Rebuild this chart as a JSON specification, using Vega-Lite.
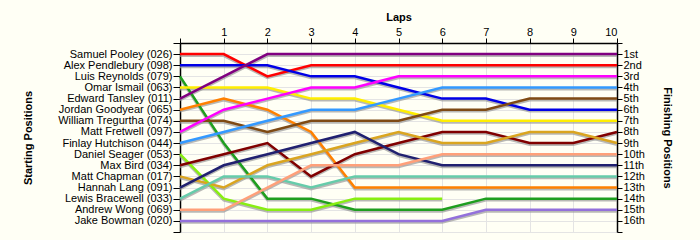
{
  "$schema": "https://vega.github.io/schema/vega-lite/v6.json",
  "width": 437,
  "height": 189,
  "autosize": "none",
  "padding": {"left": 180, "top": 43, "right": 83, "bottom": 8},
  "background": "#FFFFF5",
  "config": {
    "view": {"stroke": null},
    "font": "Liberation Sans",
    "axis": {
      "domainColor": "#000000",
      "domainWidth": 1.5,
      "tickColor": "#000000",
      "tickWidth": 1,
      "tickSize": 6,
      "labelFont": "Liberation Sans",
      "labelFontSize": 11,
      "labelColor": "#000000",
      "labelPadding": 1,
      "titleFont": "Liberation Sans",
      "titleFontSize": 11,
      "titleFontWeight": "bold",
      "titleColor": "#000000",
      "gridColor": "#E4E4E4",
      "gridWidth": 1
    }
  },
  "data": {
    "values": [
      {"start": 1, "lap": 0, "pos": 1}, {"start": 1, "lap": 1, "pos": 1}, {"start": 1, "lap": 2, "pos": 3}, {"start": 1, "lap": 3, "pos": 2}, {"start": 1, "lap": 4, "pos": 2}, {"start": 1, "lap": 5, "pos": 2}, {"start": 1, "lap": 6, "pos": 2}, {"start": 1, "lap": 7, "pos": 2}, {"start": 1, "lap": 8, "pos": 2}, {"start": 1, "lap": 9, "pos": 2}, {"start": 1, "lap": 10, "pos": 2},
      {"start": 2, "lap": 0, "pos": 2}, {"start": 2, "lap": 1, "pos": 2}, {"start": 2, "lap": 2, "pos": 2}, {"start": 2, "lap": 3, "pos": 3}, {"start": 2, "lap": 4, "pos": 3}, {"start": 2, "lap": 5, "pos": 4}, {"start": 2, "lap": 6, "pos": 5}, {"start": 2, "lap": 7, "pos": 5}, {"start": 2, "lap": 8, "pos": 6}, {"start": 2, "lap": 9, "pos": 6}, {"start": 2, "lap": 10, "pos": 6},
      {"start": 3, "lap": 0, "pos": 3}, {"start": 3, "lap": 1, "pos": 9}, {"start": 3, "lap": 2, "pos": 14}, {"start": 3, "lap": 3, "pos": 14}, {"start": 3, "lap": 4, "pos": 15}, {"start": 3, "lap": 5, "pos": 15}, {"start": 3, "lap": 6, "pos": 15}, {"start": 3, "lap": 7, "pos": 14}, {"start": 3, "lap": 8, "pos": 14}, {"start": 3, "lap": 9, "pos": 14}, {"start": 3, "lap": 10, "pos": 14},
      {"start": 4, "lap": 0, "pos": 4}, {"start": 4, "lap": 1, "pos": 4}, {"start": 4, "lap": 2, "pos": 4}, {"start": 4, "lap": 3, "pos": 5}, {"start": 4, "lap": 4, "pos": 5}, {"start": 4, "lap": 5, "pos": 6}, {"start": 4, "lap": 6, "pos": 7}, {"start": 4, "lap": 7, "pos": 7}, {"start": 4, "lap": 8, "pos": 7}, {"start": 4, "lap": 9, "pos": 7}, {"start": 4, "lap": 10, "pos": 7},
      {"start": 5, "lap": 0, "pos": 5}, {"start": 5, "lap": 1, "pos": 3}, {"start": 5, "lap": 2, "pos": 1}, {"start": 5, "lap": 3, "pos": 1}, {"start": 5, "lap": 4, "pos": 1}, {"start": 5, "lap": 5, "pos": 1}, {"start": 5, "lap": 6, "pos": 1}, {"start": 5, "lap": 7, "pos": 1}, {"start": 5, "lap": 8, "pos": 1}, {"start": 5, "lap": 9, "pos": 1}, {"start": 5, "lap": 10, "pos": 1},
      {"start": 6, "lap": 0, "pos": 6}, {"start": 6, "lap": 1, "pos": 5}, {"start": 6, "lap": 2, "pos": 6}, {"start": 6, "lap": 3, "pos": 8}, {"start": 6, "lap": 4, "pos": 13}, {"start": 6, "lap": 5, "pos": 13}, {"start": 6, "lap": 6, "pos": 13}, {"start": 6, "lap": 7, "pos": 13}, {"start": 6, "lap": 8, "pos": 13}, {"start": 6, "lap": 9, "pos": 13}, {"start": 6, "lap": 10, "pos": 13},
      {"start": 7, "lap": 0, "pos": 7}, {"start": 7, "lap": 1, "pos": 7}, {"start": 7, "lap": 2, "pos": 8}, {"start": 7, "lap": 3, "pos": 7}, {"start": 7, "lap": 4, "pos": 7}, {"start": 7, "lap": 5, "pos": 7}, {"start": 7, "lap": 6, "pos": 6}, {"start": 7, "lap": 7, "pos": 6}, {"start": 7, "lap": 8, "pos": 5}, {"start": 7, "lap": 9, "pos": 5}, {"start": 7, "lap": 10, "pos": 5},
      {"start": 8, "lap": 0, "pos": 8}, {"start": 8, "lap": 1, "pos": 6}, {"start": 8, "lap": 2, "pos": 5}, {"start": 8, "lap": 3, "pos": 4}, {"start": 8, "lap": 4, "pos": 4}, {"start": 8, "lap": 5, "pos": 3}, {"start": 8, "lap": 6, "pos": 3}, {"start": 8, "lap": 7, "pos": 3}, {"start": 8, "lap": 8, "pos": 3}, {"start": 8, "lap": 9, "pos": 3}, {"start": 8, "lap": 10, "pos": 3},
      {"start": 9, "lap": 0, "pos": 9}, {"start": 9, "lap": 1, "pos": 8}, {"start": 9, "lap": 2, "pos": 7}, {"start": 9, "lap": 3, "pos": 6}, {"start": 9, "lap": 4, "pos": 6}, {"start": 9, "lap": 5, "pos": 5}, {"start": 9, "lap": 6, "pos": 4}, {"start": 9, "lap": 7, "pos": 4}, {"start": 9, "lap": 8, "pos": 4}, {"start": 9, "lap": 9, "pos": 4}, {"start": 9, "lap": 10, "pos": 4},
      {"start": 10, "lap": 0, "pos": 10}, {"start": 10, "lap": 1, "pos": 14}, {"start": 10, "lap": 2, "pos": 15}, {"start": 10, "lap": 3, "pos": 15}, {"start": 10, "lap": 4, "pos": 14}, {"start": 10, "lap": 5, "pos": 14}, {"start": 10, "lap": 6, "pos": 14},
      {"start": 11, "lap": 0, "pos": 11}, {"start": 11, "lap": 1, "pos": 10}, {"start": 11, "lap": 2, "pos": 9}, {"start": 11, "lap": 3, "pos": 12}, {"start": 11, "lap": 4, "pos": 10}, {"start": 11, "lap": 5, "pos": 9}, {"start": 11, "lap": 6, "pos": 8}, {"start": 11, "lap": 7, "pos": 8}, {"start": 11, "lap": 8, "pos": 9}, {"start": 11, "lap": 9, "pos": 9}, {"start": 11, "lap": 10, "pos": 8},
      {"start": 12, "lap": 0, "pos": 12}, {"start": 12, "lap": 1, "pos": 13}, {"start": 12, "lap": 2, "pos": 11}, {"start": 12, "lap": 3, "pos": 10}, {"start": 12, "lap": 4, "pos": 9}, {"start": 12, "lap": 5, "pos": 8}, {"start": 12, "lap": 6, "pos": 9}, {"start": 12, "lap": 7, "pos": 9}, {"start": 12, "lap": 8, "pos": 8}, {"start": 12, "lap": 9, "pos": 8}, {"start": 12, "lap": 10, "pos": 9},
      {"start": 13, "lap": 0, "pos": 13}, {"start": 13, "lap": 1, "pos": 11}, {"start": 13, "lap": 2, "pos": 10}, {"start": 13, "lap": 3, "pos": 9}, {"start": 13, "lap": 4, "pos": 8}, {"start": 13, "lap": 5, "pos": 10}, {"start": 13, "lap": 6, "pos": 11}, {"start": 13, "lap": 7, "pos": 11}, {"start": 13, "lap": 8, "pos": 11}, {"start": 13, "lap": 9, "pos": 11}, {"start": 13, "lap": 10, "pos": 11},
      {"start": 14, "lap": 0, "pos": 14}, {"start": 14, "lap": 1, "pos": 12}, {"start": 14, "lap": 2, "pos": 12}, {"start": 14, "lap": 3, "pos": 13}, {"start": 14, "lap": 4, "pos": 12}, {"start": 14, "lap": 5, "pos": 12}, {"start": 14, "lap": 6, "pos": 12}, {"start": 14, "lap": 7, "pos": 12}, {"start": 14, "lap": 8, "pos": 12}, {"start": 14, "lap": 9, "pos": 12}, {"start": 14, "lap": 10, "pos": 12},
      {"start": 15, "lap": 0, "pos": 15}, {"start": 15, "lap": 1, "pos": 15}, {"start": 15, "lap": 2, "pos": 13}, {"start": 15, "lap": 3, "pos": 11}, {"start": 15, "lap": 4, "pos": 11}, {"start": 15, "lap": 5, "pos": 11}, {"start": 15, "lap": 6, "pos": 10}, {"start": 15, "lap": 7, "pos": 10}, {"start": 15, "lap": 8, "pos": 10}, {"start": 15, "lap": 9, "pos": 10}, {"start": 15, "lap": 10, "pos": 10},
      {"start": 16, "lap": 0, "pos": 16}, {"start": 16, "lap": 1, "pos": 16}, {"start": 16, "lap": 2, "pos": 16}, {"start": 16, "lap": 3, "pos": 16}, {"start": 16, "lap": 4, "pos": 16}, {"start": 16, "lap": 5, "pos": 16}, {"start": 16, "lap": 6, "pos": 16}, {"start": 16, "lap": 7, "pos": 15}, {"start": 16, "lap": 8, "pos": 15}, {"start": 16, "lap": 9, "pos": 15}, {"start": 16, "lap": 10, "pos": 15}
    ]
  },
  "encoding": {
    "x": {
      "field": "lap",
      "type": "quantitative",
      "scale": {"domain": [0, 10], "nice": false, "zero": false},
      "axis": {
        "orient": "top",
        "title": "Laps",
        "values": [0, 1, 2, 3, 4, 5, 6, 7, 8, 9, 10],
        "labelExpr": "datum.value == 0 ? '' : datum.label",
        "grid": true,
        "tickSize": 5,
        "labelPadding": 1,
        "titlePadding": 4
      }
    }
  },
  "layer": [
    {
      "mark": {"type": "line", "strokeWidth": 2.5, "color": "#9A9A9A", "opacity": 0.7},
      "encoding": {
        "detail": {"field": "start", "type": "nominal"},
        "y": {
          "field": "pos",
          "type": "quantitative",
          "scale": {"domain": [-0.15, 16.85], "reverse": true, "nice": false, "zero": false},
          "axis": null
        }
      }
    },
    {
      "mark": {"type": "line", "strokeWidth": 2.5},
      "encoding": {
        "color": {
          "field": "start",
          "type": "nominal",
          "legend": null,
          "scale": {
            "domain": [1, 2, 3, 4, 5, 6, 7, 8, 9, 10, 11, 12, 13, 14, 15, 16],
            "range": ["#FF0000", "#0000E6", "#1E9E1E", "#FFEE00", "#800080", "#FF8000", "#7F4A14", "#FF00FF", "#3399FF", "#88EE11", "#800000", "#DAA520", "#202070", "#66CCAA", "#FFA07A", "#9370DB"]
          }
        },
        "y": {
          "field": "pos",
          "type": "quantitative",
          "scale": {"domain": [0, 17], "reverse": true, "nice": false, "zero": false},
          "axis": {
            "orient": "left",
            "title": "Starting Positions",
            "values": [0, 1, 2, 3, 4, 5, 6, 7, 8, 9, 10, 11, 12, 13, 14, 15, 16, 17],
            "labelExpr": "['', 'Samuel Pooley (026)', 'Alex Pendlebury (098)', 'Luis Reynolds (079)', 'Omar Ismail (063)', 'Edward Tansley (011)', 'Jordan Goodyear (065)', 'William Tregurtha (074)', 'Matt Fretwell (097)', 'Finlay Hutchison (044)', 'Daniel Seager (053)', 'Max Bird (034)', 'Matt Chapman (017)', 'Hannah Lang (091)', 'Lewis Bracewell (033)', 'Andrew Wong (069)', 'Jake Bowman (020)', ''][datum.value]",
            "labelOverlap": false,
            "labelBaseline": "middle",
            "grid": true,
            "tickSize": 7,
            "titleX": -152,
            "titleY": 94.5,
            "titleAngle": -90,
            "titleBaseline": "middle",
            "titleAlign": "center"
          }
        }
      }
    },
    {
      "mark": {"type": "line", "opacity": 0},
      "encoding": {
        "detail": {"field": "start", "type": "nominal"},
        "y": {
          "field": "pos",
          "type": "quantitative",
          "scale": {"domain": [0, 17], "reverse": true, "nice": false, "zero": false},
          "axis": {
            "orient": "right",
            "title": "Finishing Positions",
            "values": [0, 1, 2, 3, 4, 5, 6, 7, 8, 9, 10, 11, 12, 13, 14, 15, 16, 17],
            "labelExpr": "['', '1st', '2nd', '3rd', '4th', '5th', '6th', '7th', '8th', '9th', '10th', '11th', '12th', '13th', '14th', '15th', '16th', ''][datum.value]",
            "labelOverlap": false,
            "labelBaseline": "middle",
            "grid": false,
            "tickSize": 5,
            "titleX": 49,
            "titleY": 94.5,
            "titleAngle": 90,
            "titleBaseline": "middle",
            "titleAlign": "center"
          }
        }
      }
    }
  ],
  "resolve": {"scale": {"y": "independent"}}
}
